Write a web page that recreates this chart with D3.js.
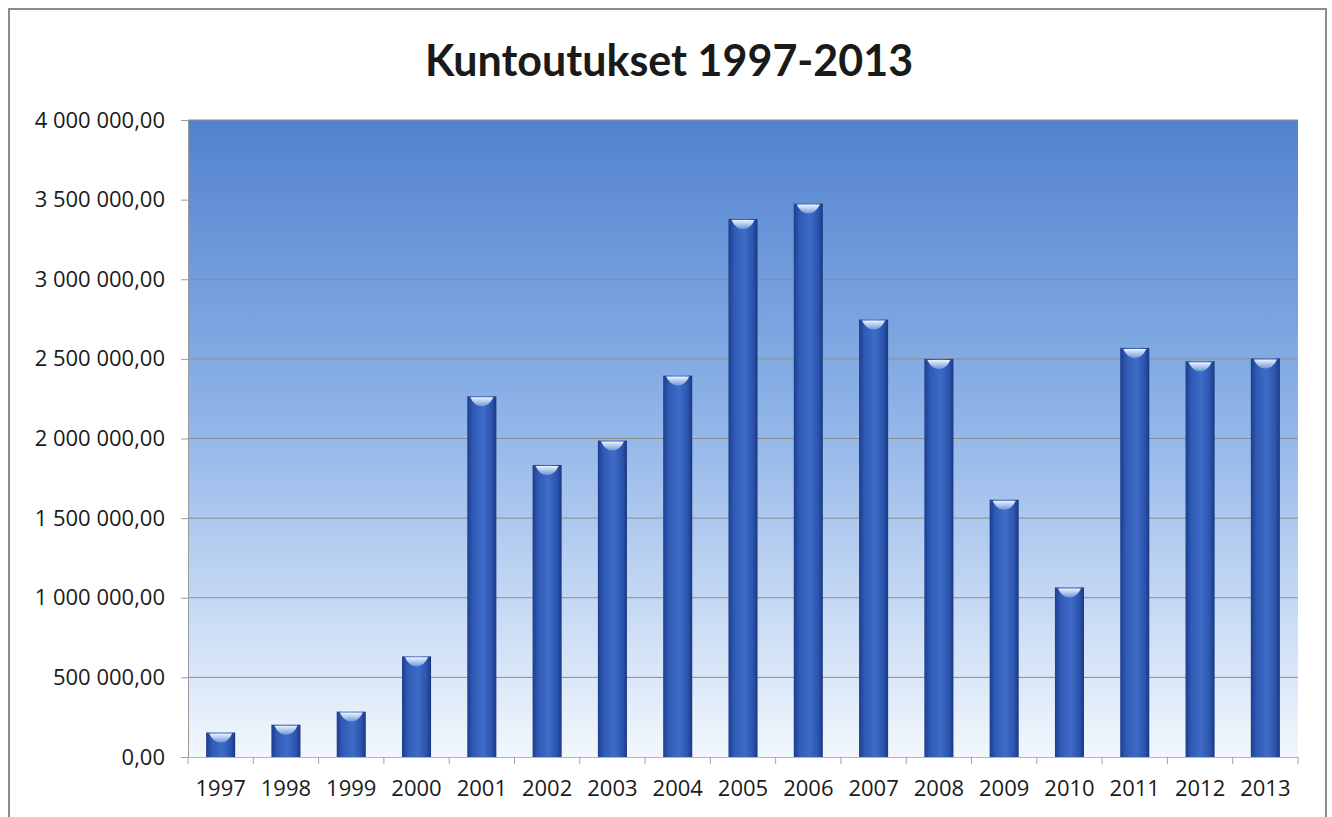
<!DOCTYPE html>
<html>
<head>
<meta charset="utf-8">
<script src="https://cdn.jsdelivr.net/npm/d3@7"></script>
<style>
  body { margin: 0; background: #fff; }
  svg { display: block; }
</style>
</head>
<body>
<svg width="1332" height="817"></svg>
<script>
// data
var years = ["1997","1998","1999","2000","2001","2002","2003","2004","2005",
             "2006","2007","2008","2009","2010","2011","2012","2013"];
var values = [154000, 203000, 285000, 632000, 2265000, 1834000, 1987000, 2395000, 3379000,
              3475000, 2747000, 2500000, 1616000, 1065000, 2569000, 2485000, 2503000];
var yTicks = [0, 500000, 1000000, 1500000, 2000000, 2500000, 3000000, 3500000, 4000000];

var svg = d3.select("svg");
var plotL = 188, plotR = 1298, plotT = 120, plotB = 757;

// finnish style number: 4 000 000,00
function fmt(v) {
  return d3.format(",.2f")(v).replace(/,/g, " ").replace(".", ",");
}

var x = d3.scaleBand().domain(years).range([plotL, plotR]).paddingInner(0.555).paddingOuter(0.2775);
var y = d3.scaleLinear().domain([0, 4000000]).range([plotB, plotT]);

var defs = svg.append("defs");
var bg = defs.append("linearGradient").attr("id", "bg").attr("x1", 0).attr("y1", 0).attr("x2", 0).attr("y2", 1);
bg.append("stop").attr("offset", "0%").attr("stop-color", "#5282cf");
bg.append("stop").attr("offset", "45%").attr("stop-color", "#8cb2e7");
bg.append("stop").attr("offset", "100%").attr("stop-color", "#f2f7fd");

var bar = defs.append("linearGradient").attr("id", "bar").attr("x1", 0).attr("y1", 0).attr("x2", 1).attr("y2", 0);
bar.append("stop").attr("offset", "0%").attr("stop-color", "#1d3d8c");
bar.append("stop").attr("offset", "20%").attr("stop-color", "#2f5bb7");
bar.append("stop").attr("offset", "55%").attr("stop-color", "#3f6cc6");
bar.append("stop").attr("offset", "85%").attr("stop-color", "#2a53ad");
bar.append("stop").attr("offset", "100%").attr("stop-color", "#1a3780");

var cap = defs.append("linearGradient").attr("id", "cap").attr("x1", 0).attr("y1", 0).attr("x2", 0).attr("y2", 1);
cap.append("stop").attr("offset", "0%").attr("stop-color", "#eef4fd");
cap.append("stop").attr("offset", "100%").attr("stop-color", "#6f98da");

// outer chart frame
svg.append("rect")
  .attr("x", 9).attr("y", 9).attr("width", 1317).attr("height", 830)
  .attr("fill", "#fff").attr("stroke", "#8c8c8c").attr("stroke-width", 2);

// title
svg.append("text")
  .attr("x", 669).attr("y", 76)
  .attr("text-anchor", "middle")
  .style("font-family", "Lato, 'Open Sans', sans-serif")
  .style("font-weight", "bold")
  .style("font-size", "43px")
  .attr("fill", "#1a1a1a")
  .text("Kuntoutukset 1997-2013");

// plot background
svg.append("rect")
  .attr("x", plotL).attr("y", plotT).attr("width", plotR - plotL).attr("height", plotB - plotT)
  .attr("fill", "url(#bg)");

// gridlines
svg.append("g").selectAll("line")
  .data(yTicks.slice(1))
  .enter().append("line")
  .attr("x1", plotL).attr("x2", plotR)
  .attr("y1", function(d) { return y(d); })
  .attr("y2", function(d) { return y(d); })
  .attr("stroke", "#8a8f8c").attr("stroke-width", 1);

// y axis
var yAxis = svg.append("g")
  .attr("transform", "translate(" + plotL + ",0)")
  .call(d3.axisLeft(y).tickValues(yTicks).tickFormat(fmt).tickSize(7).tickPadding(16));
yAxis.select(".domain").attr("stroke", "#9a9a9a");
yAxis.selectAll(".tick line").attr("stroke", "#9a9ab8");
yAxis.selectAll("text")
  .style("font-family", "'Open Sans', Lato, sans-serif")
  .style("font-size", "22px")
  .attr("fill", "#1a1a1a");

// x axis with ticks at category boundaries
var xAxis = svg.append("g")
  .attr("transform", "translate(0," + plotB + ")")
  .call(d3.axisBottom(x).tickSize(0).tickPadding(23));
xAxis.select(".domain").attr("stroke", "#b4b4c4");
xAxis.selectAll("text")
  .style("font-family", "'Open Sans', Lato, sans-serif")
  .style("font-size", "22px")
  .attr("fill", "#1a1a1a");
var step = x.step();
xAxis.append("g").selectAll("line")
  .data(d3.range(years.length + 1))
  .enter().append("line")
  .attr("x1", function(i) { return plotL + i * step; })
  .attr("x2", function(i) { return plotL + i * step; })
  .attr("y1", 0).attr("y2", 7)
  .attr("stroke", "#a0a0b0");

// bars
var bars = svg.append("g").selectAll("g")
  .data(values)
  .enter().append("g");

bars.append("rect")
  .attr("x", function(d, i) { return x(years[i]); })
  .attr("y", function(d) { return y(d); })
  .attr("width", x.bandwidth())
  .attr("height", function(d) { return plotB - y(d); })
  .attr("fill", "url(#bar)");

// light bevel on each bar top
bars.append("path")
  .attr("d", function(d, i) {
    var x0 = x(years[i]), w = x.bandwidth(), t = y(d);
    return "M" + (x0 + 3) + "," + (t + 1) + "L" + (x0 + w - 3) + "," + (t + 1) +
      "Q" + (x0 + w - 7) + "," + (t + 10) + " " + (x0 + w / 2) + "," + (t + 10) +
      "Q" + (x0 + 7) + "," + (t + 10) + " " + (x0 + 3) + "," + (t + 1) + "Z";
  })
  .attr("fill", "url(#cap)");
</script>
</body>
</html>
